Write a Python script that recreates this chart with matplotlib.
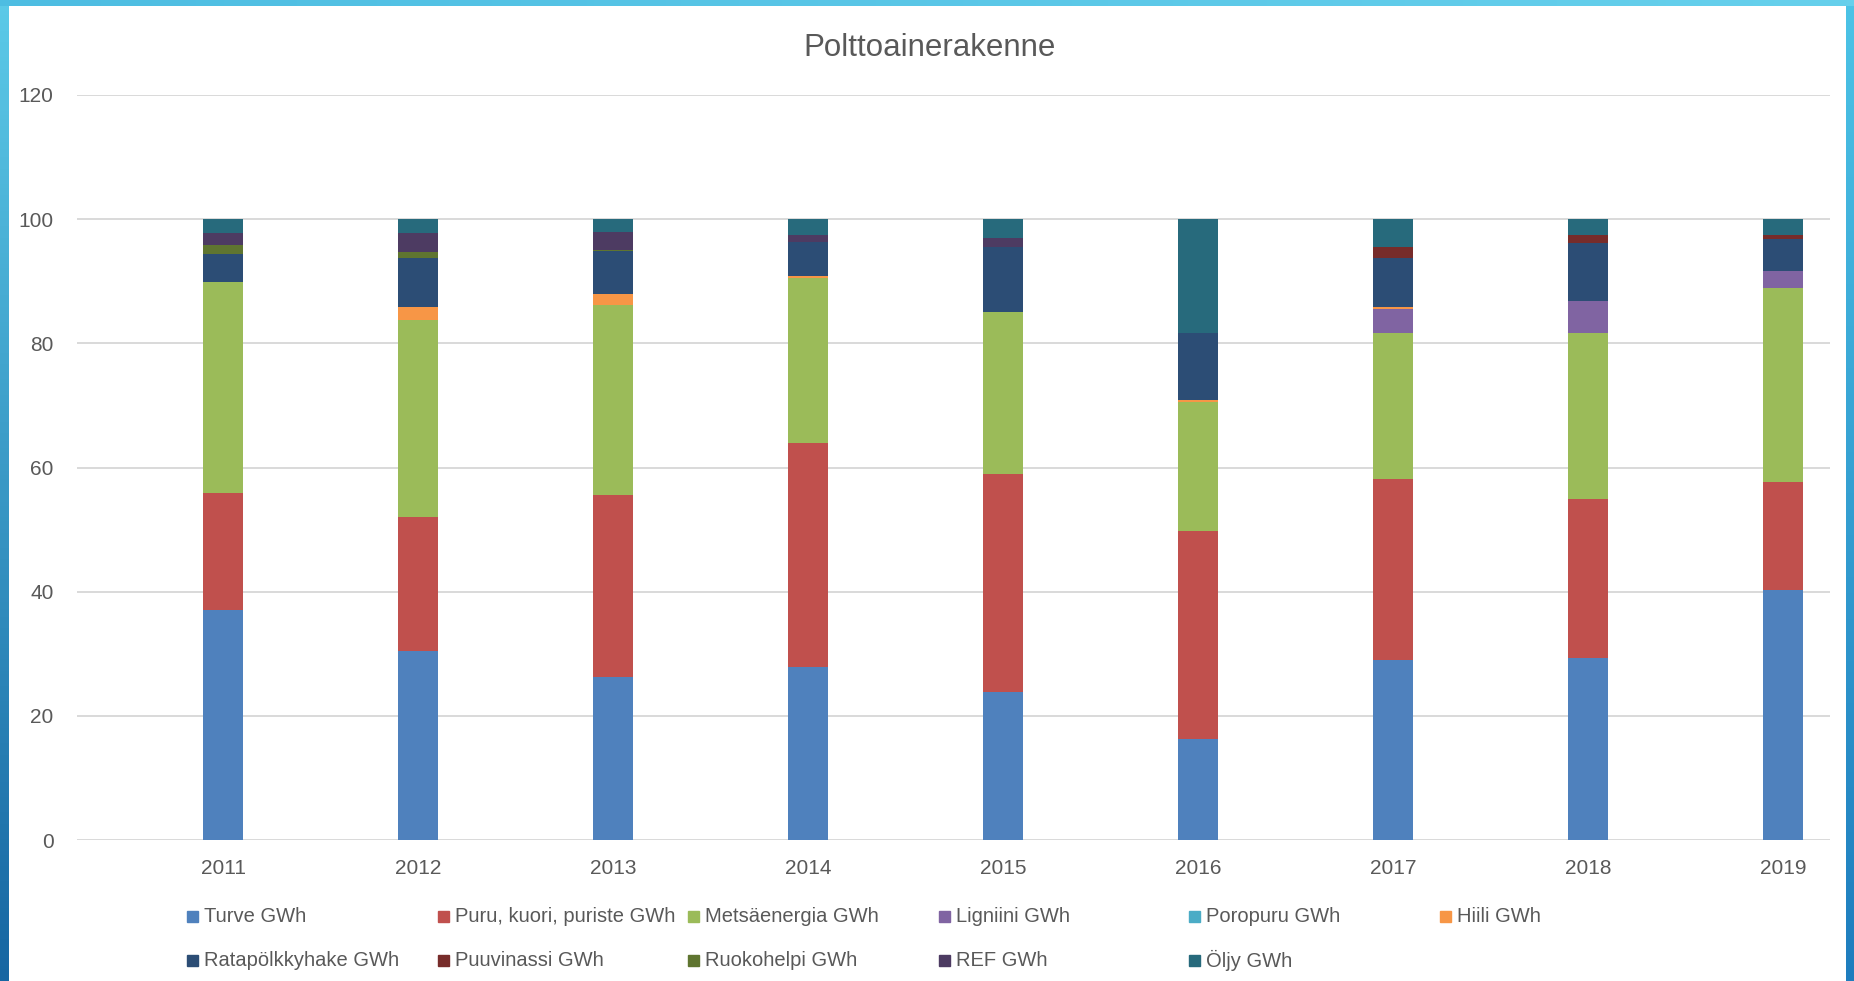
import matplotlib.pyplot as plt
from matplotlib.patches import Rectangle
import numpy as np

W, H = 1854, 981

years = ["2011", "2012", "2013", "2014", "2015", "2016", "2017", "2018", "2019"]

turve = [37.0, 30.4, 26.2, 27.8, 23.8, 16.2, 29.0, 29.3, 40.3]
puru = [18.9, 21.6, 29.4, 36.2, 35.1, 33.6, 29.2, 25.6, 17.4]
metsa = [33.9, 31.8, 30.6, 26.5, 26.2, 20.7, 23.5, 26.8, 31.2]
ligniini = [0, 0, 0, 0, 0, 0, 3.8, 5.1, 2.7]
poropuru = [0, 0, 0, 0, 0, 0, 0, 0, 0]
hiili = [0.1, 2.1, 1.8, 0.3, 0, 0.3, 0.4, 0, 0]
rata = [4.5, 7.8, 6.8, 5.6, 10.4, 10.9, 7.8, 9.3, 5.2]
puuvinassi = [0, 0, 0, 0, 0, 0, 1.8, 1.3, 0.6]
ruoko = [1.5, 1.0, 0.2, 0, 0, 0, 0, 0, 0]
ref = [1.8, 3.0, 3.0, 1.0, 1.5, 0, 0, 0, 0]
oljy = [2.3, 2.3, 2.0, 2.6, 3.0, 18.3, 4.5, 2.6, 2.6]

names = ["Turve GWh", "Puru, kuori, puriste GWh", "Metsäenergia GWh", "Ligniini GWh",
         "Poropuru GWh", "Hiili GWh", "Ratapölkkyhake GWh", "Puuvinassi GWh",
         "Ruokohelpi GWh", "REF GWh", "Öljy GWh"]
series = [turve, puru, metsa, ligniini, poropuru, hiili, rata, puuvinassi, ruoko, ref, oljy]
colors = ["#4F81BD", "#C0504D", "#9BBB59", "#8064A2", "#4BACC6", "#F79646",
          "#2C4D75", "#772C2A", "#5F7530", "#4D3B62", "#276A7C"]

plt.rcParams['font.family'] = ['Liberation Sans', 'DejaVu Sans']
txt = "#595959"

fig = plt.figure(figsize=(W / 100, H / 100), dpi=100)
fig.patch.set_facecolor("white")

# rand (sininen kehys)
cm = plt.matplotlib.colors.LinearSegmentedColormap
left = fig.add_axes([0, 0, 9 / W, 1])
left.imshow(np.linspace(0, 1, 256).reshape(-1, 1), aspect="auto",
            cmap=cm.from_list("l", ["#5CCAE8", "#1666A2"]))
left.axis("off")
top = fig.add_axes([0, 1 - 6 / H, 1, 6 / H])
top.imshow(np.linspace(0, 1, 256).reshape(1, -1), aspect="auto",
           cmap=cm.from_list("t", ["#4DBDE2", "#66D0EC"]))
top.axis("off")
right = fig.add_axes([1 - 8 / W, 0, 8 / W, 1 - 6 / H])
right.imshow(np.linspace(0, 1, 256).reshape(-1, 1), aspect="auto",
             cmap=cm.from_list("r", ["#4CC3E6", "#1E7DBE"]))
right.axis("off")

ax = fig.add_axes([77 / W, 1 - 840 / H, (1830 - 77) / W, (840 - 95) / H])
x = np.arange(len(years))
bottom = np.zeros(len(years))
for vals, c in zip(series, colors):
    ax.bar(x, vals, 0.205, bottom=bottom, color=c, edgecolor="none", zorder=2)
    bottom += np.array(vals)

ax.set_xlim(-0.749, 8.241)
ax.set_ylim(0, 120)
ax.set_yticks(range(0, 121, 20))
ax.set_xticks(x, labels=years)
ax.yaxis.grid(True, color="#D9D9D9", lw=1.4)
ax.set_axisbelow(True)
for s in ax.spines.values():
    s.set_visible(False)
ax.tick_params(axis="y", length=0, pad=17, labelsize=15, labelcolor=txt)
ax.tick_params(axis="x", length=0, pad=14, labelsize=15, labelcolor=txt)

fig.text(930 / W, 1 - 48 / H, "Polttoainerakenne", ha="center", va="center",
         fontsize=22.5, color=txt)

# selite
for i, (name, c) in enumerate(zip(names, colors)):
    row, col = divmod(i, 6)
    x0 = 187 + col * 250.6
    y0 = 916 + row * 44
    fig.patches.append(Rectangle((x0 / W, 1 - (y0 + 5.5) / H), 11 / W, 11 / H,
                                 transform=fig.transFigure, color=c))
    fig.text((x0 + 17) / W, 1 - y0 / H, name, ha="left", va="center",
             fontsize=14.5, color=txt)

fig.savefig("out.png", dpi=100)
